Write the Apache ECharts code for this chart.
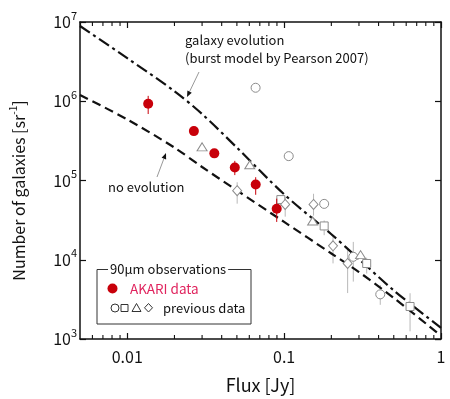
<!DOCTYPE html>
<html>
<head>
<meta charset="utf-8">
<script src="https://cdn.jsdelivr.net/npm/echarts@6/dist/echarts.min.js"></script>
<style>
  html, body { margin: 0; padding: 0; background: #fff; }
  #main { width: 450px; height: 399px; }
</style>
</head>
<body>
<div id="main"></div>
<script>
// AKARI 90um counts (red dots) with error bars
var akariFlux = [0.0136, 0.0266, 0.0359, 0.0485, 0.0659, 0.0897];
var akariN    = [9.3e5, 4.2e5, 2.2e5, 1.46e5, 8.9e4, 4.4e4];
var akariLo   = [6.9e5, 3.7e5, 2.0e5, 1.17e5, 6.6e4, 3.0e4];
var akariHi   = [1.17e6, 4.8e5, 2.45e5, 1.77e5, 1.1e5, 5.9e4];

// previous data, one array set per symbol (null = no error bar)
var circFlux = [0.0658, 0.107, 0.180, 0.276, 0.41];
var circN    = [1.48e6, 2.03e5, 5.07e4, 1.09e4, 3.66e3];
var circLo   = [null, null, null, 5.3e3, 2.7e3];
var circHi   = [null, null, null, 1.68e4, 4.8e3];

var sqFlux = [0.0953, 0.180, 0.336, 0.635];
var sqN    = [5.74e4, 2.67e4, 8.97e3, 2.57e3];
var sqLo   = [null, 2.04e4, 6.7e3, 1.25e3];
var sqHi   = [null, 3.13e4, 1.06e4, 3.78e3];

var triFlux = [0.030, 0.0604, 0.152, 0.307];
var triN    = [2.66e5, 1.58e5, 3.08e4, 1.16e4];

var diaFlux = [0.0502, 0.1016, 0.154, 0.205, 0.254];
var diaN    = [7.45e4, 4.98e4, 4.98e4, 1.5e4, 8.97e3];
var diaLo   = [5.1e4, 3.5e4, 3.6e4, 9.0e3, 3.8e3];
var diaHi   = [9.5e4, 6.2e4, 6.8e4, 2.0e4, 1.38e4];

// model curves
var modelFlux = [0.005, 0.01, 0.02, 0.03, 0.05, 0.1, 0.2, 0.3, 0.5, 1];
var evolN     = [8.9e6, 3.5e6, 1.34e6, 6.9e5, 2.6e5, 6.7e4, 2.1e4, 1.02e4, 4.1e3, 1.38e3];
var noEvolN   = [1.2e6, 5.9e5, 2.6e5, 1.48e5, 7.5e4, 3.0e4, 1.2e4, 7.0e3, 3.3e3, 1.1e3];

// axis ticks
var xTickVals   = [0.01, 0.1, 1];
var xTickLabels = ['0.01', '0.1', '1'];
var xMinorTicks = [0.006, 0.007, 0.008, 0.009,
                   0.02, 0.03, 0.04, 0.05, 0.06, 0.07, 0.08, 0.09,
                   0.2, 0.3, 0.4, 0.5, 0.6, 0.7, 0.8, 0.9];

var FONT = '"Noto Sans CJK JP", "Noto Sans", sans-serif';
var RED = '#c8000a';
var GREY = '#8c8c8c';

function zip(xs, ys) {
  return xs.map(function (x, i) { return [x, ys[i]]; });
}
function bars(xs, lo, hi) {
  var out = [];
  for (var i = 0; i < xs.length; i++) {
    if (lo[i] != null) out.push([xs[i], lo[i], hi[i]]);
  }
  return out;
}
function errorBar(color) {
  return function (params, api) {
    var p1 = api.coord([api.value(0), api.value(1)]);
    var p2 = api.coord([api.value(0), api.value(2)]);
    return {
      type: 'line',
      shape: { x1: p1[0], y1: p1[1], x2: p2[0], y2: p2[1] },
      style: { stroke: color, lineWidth: 1 }
    };
  };
}
// small arrow: grey shaft, black head
function arrow(x0, y0, x1, y1) {
  var dx = x1 - x0, dy = y1 - y0, l = Math.sqrt(dx * dx + dy * dy);
  var ux = dx / l, uy = dy / l, bx = x1 - 6 * ux, by = y1 - 6 * uy;
  return [
    { type: 'line', shape: { x1: x0, y1: y0, x2: bx, y2: by }, style: { stroke: '#999', lineWidth: 1 } },
    { type: 'polygon', shape: { points: [[x1, y1], [bx + 2.4 * uy, by - 2.4 * ux], [bx - 2.4 * uy, by + 2.4 * ux]] },
      style: { fill: '#111' } }
  ];
}

var chart = echarts.init(document.getElementById('main'));

var grid = { left: 80, right: 9, top: 22, bottom: 58 };

var graphics = [].concat(
  arrow(199, 72, 187, 97),
  arrow(157, 177, 166, 153),
  [
    { type: 'text', left: 185, top: 34, style: { text: 'galaxy evolution', font: '13px ' + FONT, fill: '#111' } },
    { type: 'text', left: 185, top: 52, style: { text: '(burst model by Pearson 2007)', font: '13px ' + FONT, fill: '#111' } },
    { type: 'text', left: 108, top: 181, style: { text: 'no evolution', font: '13px ' + FONT, fill: '#111' } },
    // legend box
    { type: 'rect', shape: { x: 97, y: 269.5, width: 154, height: 54.5 }, style: { fill: '#fff', stroke: '#333', lineWidth: 1 }, z: 10 },
    { type: 'text', x: 108, y: 269.5, style: { text: '90\u03bcm observations', font: '13px ' + FONT, fill: '#111',
      backgroundColor: '#fff', padding: [0, 2], verticalAlign: 'middle' }, z: 11 },
    { type: 'circle', shape: { cx: 112.5, cy: 288.5, r: 5 }, style: { fill: RED }, z: 11 },
    { type: 'text', x: 130, y: 288.5, style: { text: 'AKARI data', font: '13.5px ' + FONT, fill: '#e0245e', verticalAlign: 'middle' }, z: 11 },
    { type: 'circle', shape: { cx: 115, cy: 308, r: 4 }, style: { fill: '#fff', stroke: '#333', lineWidth: 1 }, z: 11 },
    { type: 'rect', shape: { x: 121, y: 304.5, width: 7, height: 7 }, style: { fill: '#fff', stroke: '#333', lineWidth: 1 }, z: 11 },
    { type: 'polygon', shape: { points: [[136.5, 303.5], [141, 311.5], [132, 311.5]] }, style: { fill: '#fff', stroke: '#333', lineWidth: 1 }, z: 11 },
    { type: 'polygon', shape: { points: [[148.5, 303.5], [152.5, 307.8], [148.5, 312], [144.5, 307.8]] }, style: { fill: '#fff', stroke: '#333', lineWidth: 1 }, z: 11 },
    { type: 'text', x: 163, y: 308, style: { text: 'previous data', font: '13px ' + FONT, fill: '#111', verticalAlign: 'middle' }, z: 11 }
  ]
);

var axisLineStyle = { lineStyle: { color: '#111', width: 1.5 } };
var tickStyle = { inside: true, length: 6, lineStyle: { color: '#111', width: 1.2 } };

var option = {
  animation: false,
  backgroundColor: '#fff',
  grid: grid,
  textStyle: { fontFamily: FONT },
  graphic: graphics,
  xAxis: [
    {
      type: 'log', logBase: 10, min: 0.005, max: 1,
      name: 'Flux [Jy]', nameLocation: 'middle', nameGap: 37,
      nameTextStyle: { fontSize: 18, color: '#111', fontFamily: FONT },
      axisLine: axisLineStyle, axisTick: tickStyle, splitLine: { show: false },
      axisLabel: {
        margin: 10, fontSize: 16, color: '#111', fontFamily: FONT, showMinLabel: false,
        formatter: function (v) {
          for (var i = 0; i < xTickVals.length; i++) {
            if (Math.abs(v - xTickVals[i]) / xTickVals[i] < 1e-6) return xTickLabels[i];
          }
          return '';
        }
      }
    },
    {
      type: 'log', logBase: 10, min: 0.005, max: 1, position: 'top',
      axisLine: axisLineStyle, axisTick: tickStyle, axisLabel: { show: false }, splitLine: { show: false }
    }
  ],
  yAxis: [
    {
      type: 'log', logBase: 10, min: 1e3, max: 1e7,
      name: '{a|Number of galaxies [sr}{s|-1}{a|]}', nameLocation: 'middle', nameGap: 50,
      nameTextStyle: {
        padding: [0, 20, 0, 0],
        rich: {
          a: { fontSize: 16, color: '#111', fontFamily: FONT, lineHeight: 22 },
          s: { fontSize: 10, color: '#111', fontFamily: FONT, verticalAlign: 'top', lineHeight: 10 }
        }
      },
      axisLine: axisLineStyle, axisTick: tickStyle, splitLine: { show: false },
      axisLabel: {
        margin: 3,
        formatter: function (v) { return '{b|10}{s|' + Math.round(Math.log10(v)) + '}'; },
        rich: {
          b: { fontSize: 16, color: '#111', fontFamily: FONT, lineHeight: 24 },
          s: { fontSize: 11, color: '#111', fontFamily: FONT, verticalAlign: 'top', lineHeight: 11 }
        }
      }
    },
    {
      type: 'log', logBase: 10, min: 1e3, max: 1e7, position: 'right',
      axisLine: axisLineStyle, axisTick: tickStyle, axisLabel: { show: false }, splitLine: { show: false }
    }
  ],
  series: [
    {
      // minor ticks on bottom and top of x axis
      type: 'custom', silent: true, z: 1,
      data: xMinorTicks.map(function (v) { return [v, 1e3]; }),
      renderItem: function (params, api) {
        var x = api.coord([api.value(0), api.value(1)])[0];
        var cs = params.coordSys;
        return {
          type: 'group', children: [
            { type: 'line', shape: { x1: x, y1: cs.y + cs.height, x2: x, y2: cs.y + cs.height - 4 }, style: { stroke: '#111', lineWidth: 1.1 } },
            { type: 'line', shape: { x1: x, y1: cs.y, x2: x, y2: cs.y + 4 }, style: { stroke: '#111', lineWidth: 1.1 } }
          ]
        };
      }
    },
    {
      type: 'custom', silent: true, z: 2,
      data: [].concat(bars(circFlux, circLo, circHi), bars(sqFlux, sqLo, sqHi), bars(diaFlux, diaLo, diaHi)),
      renderItem: errorBar('#b8b8b8')
    },
    {
      type: 'line', name: 'galaxy evolution', data: zip(modelFlux, evolN), showSymbol: false,
      smooth: 0.3, z: 3,
      lineStyle: { color: '#111', width: 2.2, type: [12, 4, 3, 4] }
    },
    {
      type: 'line', name: 'no evolution', data: zip(modelFlux, noEvolN), showSymbol: false,
      smooth: 0.3, z: 3,
      lineStyle: { color: '#111', width: 2.2, type: [9, 5] }
    },
    {
      type: 'scatter', data: zip(circFlux, circN), symbol: 'circle', symbolSize: 9, z: 4,
      itemStyle: { color: '#fff', borderColor: GREY, borderWidth: 1, opacity: 1 }
    },
    {
      type: 'scatter', data: zip(sqFlux, sqN), symbol: 'rect', symbolSize: 8, z: 4,
      itemStyle: { color: '#fff', borderColor: GREY, borderWidth: 1, opacity: 1 }
    },
    {
      type: 'scatter', data: zip(triFlux, triN), symbol: 'triangle', symbolSize: [10, 8], z: 4,
      itemStyle: { color: '#fff', borderColor: GREY, borderWidth: 1, opacity: 1 }
    },
    {
      type: 'scatter', data: zip(diaFlux, diaN), symbol: 'diamond', symbolSize: [9, 10], z: 4,
      itemStyle: { color: '#fff', borderColor: GREY, borderWidth: 1, opacity: 1 }
    },
    {
      type: 'custom', silent: true, z: 5,
      data: bars(akariFlux, akariLo, akariHi),
      renderItem: errorBar(RED)
    },
    {
      type: 'scatter', data: zip(akariFlux, akariN), symbol: 'circle', symbolSize: 10, z: 6,
      itemStyle: { color: RED, opacity: 1 }
    }
  ]
};

chart.setOption(option);
</script>
</body>
</html>
